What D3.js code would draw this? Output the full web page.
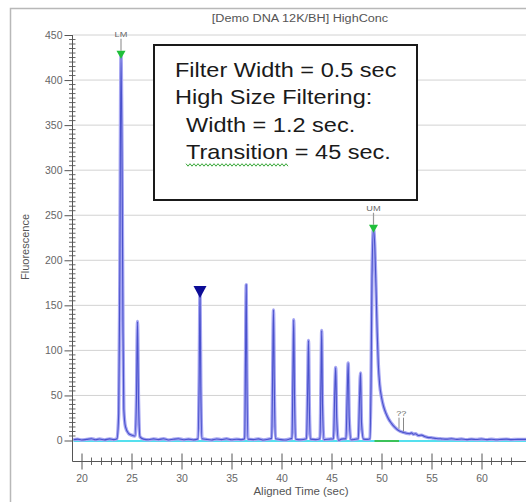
<!DOCTYPE html>
<html><head><meta charset="utf-8">
<script src="https://cdn.jsdelivr.net/npm/d3@7"></script>
<style>
body{margin:0;background:#fff}
svg{display:block}
text{font-family:"Liberation Sans",Arial,sans-serif}
</style>
</head><body>
<script>
// ---------------- data ----------------
const chartTitle = "[Demo DNA 12K/BH] HighConc";
const xLabel = "Aligned Time (sec)";
const yLabel = "Fluorescence";
const xTicks = [20, 25, 30, 35, 40, 45, 50, 55, 60];
const yTicks = [0, 50, 100, 150, 200, 250, 300, 350, 400, 450];

const traceTime = [
  19.2, 19.6, 20.0, 20.5, 21.0, 21.4, 21.8, 22.3, 22.8, 23.2,
  23.55, 23.72, 23.83, 23.95, 24.06, 24.15, 24.23, 24.4, 24.7, 25.0,
  25.35, 25.5, 25.6, 25.7, 25.85, 26.2, 26.7, 27.2, 27.7, 28.2,
  28.7, 29.2, 29.7, 30.2, 30.7, 31.2, 31.65, 31.77, 31.85, 31.93,
  32.05, 32.5, 33.0, 33.5, 34.0, 34.5, 35.0, 35.5, 36.0, 36.32,
  36.4, 36.47, 36.54, 36.65, 37.2, 37.7, 38.2, 38.7, 39.02, 39.12,
  39.2, 39.28, 39.4, 39.8, 40.3, 40.8, 41.05, 41.15, 41.22, 41.3,
  41.42, 41.9, 42.5, 42.62, 42.7, 42.78, 42.9, 43.4, 43.85, 43.95,
  44.02, 44.1, 44.25, 44.8, 45.2, 45.32, 45.42, 45.52, 45.7, 46.0,
  46.45, 46.57, 46.67, 46.77, 46.95, 47.3, 47.68, 47.8, 47.9, 48.0,
  48.2, 48.6, 48.85, 48.95, 49.05, 49.2, 49.33, 49.45, 49.57, 49.68,
  49.82, 50.0, 50.2, 50.45, 50.7, 51.0, 51.3, 51.6, 51.9, 52.2,
  52.5, 52.8, 53.0, 53.2, 53.4, 53.7, 54.0, 54.3, 54.6, 55.0,
  55.5, 56.0, 56.5, 57.0, 57.5, 58.0, 58.5, 59.0, 59.5, 60.0,
  60.5, 61.0, 61.5, 62.0, 62.5, 63.0, 63.6, 64.5
];
const traceValue = [
  0.8, 1.5, 0.6, 1.2, 2.0, 0.9, 1.6, 0.7, 1.8, 1.0,
  2.0, 30, 180, 428, 300, 120, 35, 15, 8, 6,
  5, 50, 132, 45, 4, 1.5, 0.8, 1.8, 1.0, 2.0,
  0.6, 1.4, 1.9, 0.9, 1.5, 0.7, 1.8, 70, 167, 60,
  2, 1.2, 0.6, 1.7, 1.0, 1.9, 0.8, 1.4, 1.0, 2,
  90, 173, 70, 1.5, 1.0, 1.8, 0.6, 1.5, 2.5, 80,
  145, 60, 2, 1.2, 0.5, 1.6, 2.5, 80, 134, 50,
  1.5, 0.9, 2, 60, 111, 40, 1.5, 1.0, 2, 70,
  122, 40, 1.0, 1.5, 2, 50, 81, 25, 0.3, 1.5,
  2, 50, 86, 25, 0.8, 1.2, 2, 45, 75, 20,
  1.5, 1.2, 2, 60, 180, 235, 215, 170, 120, 85,
  62, 48, 38, 30, 24, 19, 15, 12, 10, 9,
  8, 7.5, 8.5, 7, 7.5, 5.5, 6, 4.5, 3.5, 3,
  2.2, 1.8, 1.5, 2.0, 1.2, 1.6, 1.0, 1.5, 1.1, 1.6,
  1.0, 1.4, 0.9, 1.3, 1.5, 1.0, 1.3, 1.2
];

const sizeMarkerTime = [23.95, 49.2];
const sizeMarkerValue = [428, 235];
const sizeMarkerLabel = ["LM", "UM"];
const selectedPeakTime = [31.85];
const selectedPeakValue = [167];
const unknownPeakTime = [51.75, 52.2];
const unknownPeakValue = [12, 9];
const unknownLabel = "??";
const baselineStart = 19.2;
const integratedStart = 49.3;
const integratedEnd = 51.75;

const noteLines = ["Filter Width = 0.5 sec", "High Size Filtering:", "Width = 1.2 sec.", "Transition = 45 sec."];
const noteIndent = [0, 0, 1, 1];

// ---------------- layout ----------------
const W = 526, H = 502;
const SX = 1.15;   // horizontal stretch of the original rendering
const SXN = 1.12;  // stretch used for the note box text
const plotLeft = 72.5, axisY = 461.5;

const x = d3.scaleLinear().domain([20, 60]).range([81.5, 481.5]);
const y = d3.scaleLinear().domain([0, 450]).range([440.5, 35]);

const svg = d3.select("body").append("svg").attr("width", W).attr("height", H);
svg.append("rect").attr("width", W).attr("height", H).attr("fill", "#fff");

// outer frame
svg.append("path").attr("d", `M10.5,${H} V8.5 H${W}`)
  .attr("fill", "none").attr("stroke", "#b8b8b8").attr("stroke-width", 1.5);

// title
svg.append("text").attr("transform", `translate(300,22) scale(${SX},1)`)
  .attr("text-anchor", "middle").attr("font-size", 11).attr("fill", "#555").text(chartTitle);

// gridlines
svg.append("g").selectAll("line").data(yTicks).join("line")
  .attr("x1", plotLeft).attr("x2", W)
  .attr("y1", d => y(d)).attr("y2", d => y(d))
  .attr("stroke", "#d2d2d2").attr("stroke-width", 1);

// y axis
const yAxis = svg.append("g").attr("transform", `translate(${plotLeft},0)`)
  .call(d3.axisLeft(y).tickValues(yTicks).tickSize(8).tickPadding(2).tickFormat(d3.format("d")));
yAxis.select(".domain").remove();
yAxis.selectAll("line").attr("stroke", "#555");
yAxis.selectAll("text").attr("font-size", 10.5).attr("fill", "#666");
svg.append("g").selectAll("line").data(d3.range(5, 450, 5).filter(d => d % 50 !== 0)).join("line")
  .attr("x1", plotLeft - 3.5).attr("x2", plotLeft + 3)
  .attr("y1", d => y(d)).attr("y2", d => y(d))
  .attr("stroke", "#666");
svg.append("line").attr("x1", plotLeft).attr("x2", plotLeft)
  .attr("y1", y(450)).attr("y2", axisY).attr("stroke", "#555");

// x axis
const xAxis = svg.append("g").attr("transform", `translate(0,${axisY})`)
  .call(d3.axisBottom(x).tickValues(xTicks).tickSize(8).tickPadding(5.5).tickFormat(d3.format("d")));
xAxis.select(".domain").remove();
xAxis.selectAll("line").attr("y1", -8).attr("stroke", "#555");
xAxis.selectAll("text").attr("font-size", 10.5).attr("fill", "#666");
svg.append("g").selectAll("line").data(d3.range(20, 64).filter(d => d % 5 !== 0)).join("line")
  .attr("x1", d => x(d)).attr("x2", d => x(d))
  .attr("y1", axisY - 4).attr("y2", axisY + 3.5)
  .attr("stroke", "#666");
svg.append("line").attr("x1", plotLeft).attr("x2", W)
  .attr("y1", axisY).attr("y2", axisY).attr("stroke", "#555");

// axis titles
svg.append("text").attr("transform", `translate(301,495) scale(${SX},1)`)
  .attr("text-anchor", "middle").attr("font-size", 10).attr("fill", "#555").text(xLabel);
svg.append("text").attr("transform", "translate(29,247) rotate(-90)")
  .attr("text-anchor", "middle").attr("font-size", 11).attr("fill", "#555").text(yLabel);

// baselines
svg.append("line").attr("x1", x(baselineStart)).attr("x2", W)
  .attr("y1", y(0) + 0.5).attr("y2", y(0) + 0.5)
  .attr("stroke", "#55e0ee").attr("stroke-width", 2);
svg.append("line").attr("x1", x(integratedStart)).attr("x2", x(integratedEnd))
  .attr("y1", y(0) + 0.5).attr("y2", y(0) + 0.5)
  .attr("stroke", "#3cc25a").attr("stroke-width", 2);

// trace
const pts = traceTime.map((t, i) => [t, traceValue[i]]);
const line = d3.line().x(d => x(d[0])).y(d => y(d[1])).curve(d3.curveMonotoneX);
svg.append("path").datum(pts).attr("d", line)
  .attr("fill", "none").attr("stroke", "#a6a6f2").attr("stroke-width", 3.4).attr("stroke-linejoin", "round");
svg.append("path").datum(pts).attr("d", line)
  .attr("fill", "none").attr("stroke", "#4a52cc").attr("stroke-width", 1.1).attr("stroke-linejoin", "round");

// size markers (LM / UM)
sizeMarkerTime.forEach((t, i) => {
  const cx = x(t), tip = y(sizeMarkerValue[i]) + 4, top = tip - 8;
  svg.append("line").attr("x1", cx).attr("x2", cx).attr("y1", top - 12).attr("y2", top)
    .attr("stroke", "#999").attr("stroke-width", 1.2);
  svg.append("path").attr("d", `M${cx - 4.5},${top} L${cx + 4.5},${top} L${cx},${tip} Z`)
    .attr("fill", "#1fbf3a");
  svg.append("text").attr("transform", `translate(${cx},${top - 14}) scale(${SX},1)`)
    .attr("text-anchor", "middle").attr("font-size", 8).attr("fill", "#666").text(sizeMarkerLabel[i]);
});

// selected peak marker
selectedPeakTime.forEach((t, i) => {
  const cx = x(t), top = y(selectedPeakValue[i]) - 4;
  svg.append("path").attr("d", `M${cx - 6.5},${top} L${cx + 6.5},${top} L${cx},${top + 12} Z`)
    .attr("fill", "#0c0c96");
});

// unknown peak label
unknownPeakTime.forEach((t, i) => {
  const cx = x(t), yy = y(unknownPeakValue[i]);
  svg.append("line").attr("x1", cx).attr("x2", cx).attr("y1", y(unknownPeakValue[0]) - 12).attr("y2", yy - 1)
    .attr("stroke", "#888").attr("stroke-width", 1);
});
svg.append("text")
  .attr("transform", `translate(${(x(unknownPeakTime[0]) + x(unknownPeakTime[1])) / 2},${y(unknownPeakValue[0]) - 14}) scale(${SX},1)`)
  .attr("text-anchor", "middle").attr("font-size", 8).attr("fill", "#666").text(unknownLabel);

// note box
svg.append("rect").attr("x", 154).attr("y", 45).attr("width", 263).attr("height", 155)
  .attr("fill", "#fff").attr("stroke", "#1a1a1a").attr("stroke-width", 2);
svg.append("g").selectAll("text").data(noteLines).join("text")
  .attr("transform", (d, i) => `translate(${noteIndent[i] ? 186 : 175},${76.7 + i * 27.5}) scale(${SXN},1)`)
  .attr("font-size", 21).attr("fill", "#1a1a1a").text(d => d);
// spell-check squiggle under "Transition"
const probe = svg.append("text").attr("font-size", 21).attr("visibility", "hidden").text("Transition ");
const wLen = probe.node().getComputedTextLength() * SXN;
probe.remove();
const sq = [];
for (let k = 0; k * 2 <= wLen; k++) sq.push([186 + k * 2, 76.7 + 3 * 27.5 + (k % 2 ? 7 : 4.5)]);
svg.append("path").attr("d", d3.line()(sq)).attr("fill", "none").attr("stroke", "#3aa83a").attr("stroke-width", 1);
</script>
</body></html>
